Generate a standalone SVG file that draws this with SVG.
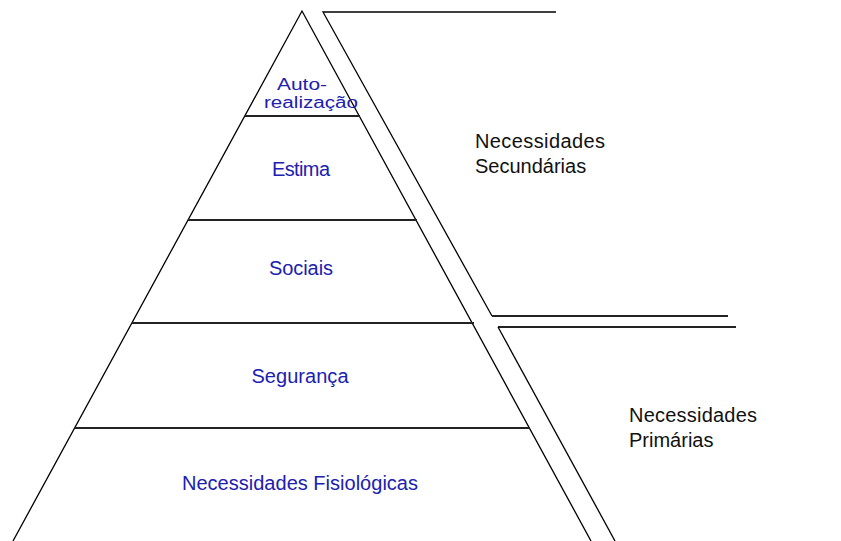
<svg xmlns="http://www.w3.org/2000/svg" width="841" height="541" viewBox="0 0 841 541">
<style>
.ln{stroke:#000;stroke-width:1.3;fill:none}
.hl{stroke:#222;stroke-width:2;fill:none}
.lbl{font-family:"Liberation Sans",Arial,sans-serif;font-size:20px;fill:#2020b0;text-anchor:middle}
.sm{font-size:16px}
.side{font-family:"Liberation Sans",Arial,sans-serif;font-size:20px;fill:#111}
</style>
<rect width="841" height="541" fill="#fff"/>
<g id="connectors">
<polyline class="ln" points="13,541 302,11 591,541"/>
<polyline class="ln" points="556,12 323,12 492,316"/>
<line class="hl" x1="492" y1="316" x2="728" y2="316"/>
<line class="hl" x1="498" y1="327" x2="736" y2="327"/>
<line class="ln" x1="498" y1="327" x2="615" y2="541"/>
</g>
<g id="n-auto">
<line class="hl" x1="245" y1="116" x2="360" y2="116"/>
<text class="lbl sm" x="302" y="90" textLength="50" lengthAdjust="spacingAndGlyphs">Auto-</text>
<text class="lbl sm" x="311" y="108" textLength="94" lengthAdjust="spacingAndGlyphs">realização</text>
</g>
<g id="n-estima">
<line class="hl" x1="188" y1="220" x2="417" y2="220"/>
<text class="lbl" x="301" y="176" textLength="58">Estima</text>
</g>
<g id="n-sociais">
<line class="hl" x1="132" y1="323" x2="474" y2="323"/>
<text class="lbl" x="301" y="275" textLength="64">Sociais</text>
</g>
<g id="n-seguranca">
<line class="hl" x1="75" y1="428" x2="530" y2="428"/>
<text class="lbl" x="300" y="383" textLength="97">Segurança</text>
</g>
<g id="n-fisiologicas">
<text class="lbl" x="300" y="490" textLength="236">Necessidades Fisiológicas</text>
</g>
<g id="n-secundarias">
<text class="side" x="475" y="148" textLength="130">Necessidades</text>
<text class="side" x="475" y="173">Secundárias</text>
</g>
<g id="n-primarias">
<text class="side" x="629" y="422" textLength="128">Necessidades</text>
<text class="side" x="629" y="447">Primárias</text>
</g>
</svg>
